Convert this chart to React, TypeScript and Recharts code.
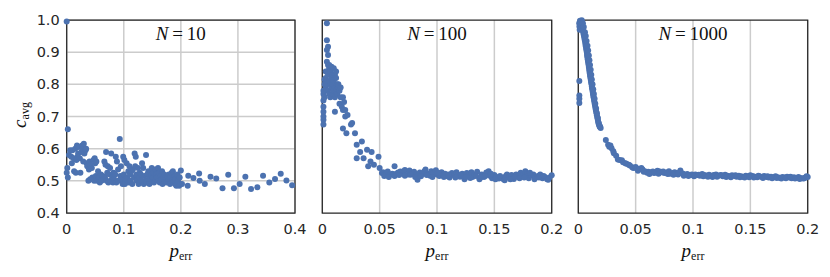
import { CartesianGrid, ReferenceArea, Scatter, ScatterChart, XAxis, YAxis } from "recharts";

const dotColor = "#4C72B0";
const gridColor = "#CCCCCC";
const edgeColor = "#262626";
const sans = "'DejaVu Sans', Arial, sans-serif";
const serif = "'Liberation Serif', 'DejaVu Serif', serif";

const yTicks = [0.4, 0.5, 0.6, 0.7, 0.8, 0.9, 1.0];
const xTicksWide = [0, 0.1, 0.2, 0.3, 0.4];
const xTicksNarrow = [0, 0.05, 0.1, 0.15, 0.2];

// N = 10
const n10: number[][] = [
  [0, 0.995], [0.002, 0.66], [0, 0.525], [0.001, 0.54], [0.002, 0.51], [0.004, 0.58], [0.006, 0.595], [0.008, 0.575], [0.009, 0.555], [0.01, 0.595],
  [0.012, 0.57], [0.013, 0.53], [0.015, 0.6], [0.016, 0.525], [0.018, 0.61], [0.019, 0.575], [0.02, 0.585], [0.017, 0.565],
  [0.021, 0.605], [0.023, 0.57], [0.024, 0.525], [0.026, 0.59], [0.027, 0.61], [0.028, 0.6], [0.029, 0.56], [0.03, 0.615],
  [0.031, 0.585], [0.033, 0.595], [0.034, 0.6], [0.035, 0.555], [0.036, 0.545], [0.038, 0.5], [0.039, 0.535], [0.04, 0.56],
  [0.041, 0.505], [0.042, 0.55], [0.044, 0.54], [0.045, 0.51], [0.047, 0.565], [0.048, 0.5], [0.049, 0.57], [0.05, 0.555],
  [0.051, 0.515], [0.052, 0.56], [0.053, 0.5], [0.055, 0.53], [0.056, 0.505], [0.057, 0.51], [0.058, 0.495], [0.06, 0.52],
  [0.061, 0.5], [0.063, 0.515], [0.064, 0.505], [0.066, 0.56], [0.067, 0.51], [0.068, 0.55], [0.069, 0.59], [0.07, 0.5],
  [0.071, 0.525], [0.072, 0.545], [0.073, 0.495], [0.075, 0.52], [0.076, 0.54], [0.077, 0.5], [0.078, 0.585], [0.08, 0.51],
  [0.081, 0.495], [0.082, 0.525], [0.083, 0.505], [0.085, 0.52], [0.086, 0.575], [0.087, 0.495], [0.088, 0.56], [0.09, 0.535],
  [0.091, 0.5], [0.093, 0.63], [0.094, 0.515], [0.095, 0.545], [0.096, 0.505], [0.098, 0.49], [0.099, 0.575], [0.1, 0.52],
  [0.101, 0.565], [0.102, 0.49], [0.103, 0.505], [0.105, 0.555], [0.106, 0.51], [0.108, 0.53], [0.109, 0.495], [0.11, 0.545],
  [0.111, 0.52], [0.112, 0.5], [0.113, 0.53], [0.115, 0.49], [0.116, 0.535], [0.118, 0.51], [0.119, 0.585], [0.12, 0.545],
  [0.121, 0.575], [0.122, 0.52], [0.123, 0.5], [0.125, 0.54], [0.126, 0.49], [0.127, 0.51], [0.128, 0.525], [0.13, 0.52],
  [0.131, 0.5], [0.132, 0.555], [0.134, 0.54], [0.135, 0.49], [0.136, 0.515], [0.138, 0.5], [0.139, 0.58], [0.14, 0.495],
  [0.141, 0.52], [0.143, 0.53], [0.144, 0.505], [0.145, 0.49], [0.147, 0.53], [0.148, 0.52], [0.149, 0.54], [0.15, 0.5],
  [0.151, 0.51], [0.152, 0.525], [0.153, 0.495], [0.155, 0.535], [0.156, 0.505], [0.157, 0.52], [0.158, 0.51], [0.16, 0.54],
  [0.161, 0.5], [0.162, 0.525], [0.163, 0.495], [0.165, 0.515], [0.166, 0.505], [0.167, 0.53], [0.168, 0.49], [0.17, 0.51],
  [0.171, 0.52], [0.172, 0.5], [0.174, 0.51], [0.175, 0.495], [0.176, 0.515], [0.178, 0.5], [0.179, 0.52], [0.18, 0.505],
  [0.181, 0.49], [0.182, 0.51], [0.184, 0.525], [0.185, 0.5], [0.186, 0.53], [0.187, 0.495], [0.189, 0.515], [0.19, 0.49],
  [0.191, 0.505], [0.192, 0.485], [0.194, 0.52], [0.195, 0.5], [0.197, 0.485], [0.198, 0.51], [0.199, 0.49], [0.2, 0.532],
  [0.202, 0.49], [0.212, 0.485], [0.213, 0.516], [0.222, 0.509], [0.232, 0.523], [0.233, 0.5], [0.242, 0.49], [0.252, 0.513],
  [0.262, 0.507], [0.273, 0.477], [0.283, 0.519], [0.293, 0.477], [0.303, 0.49], [0.313, 0.513], [0.323, 0.475], [0.334, 0.48],
  [0.344, 0.516], [0.355, 0.495], [0.365, 0.506], [0.375, 0.522], [0.385, 0.501], [0.395, 0.486],
];

// N = 100
const n100: number[][] = [
  [0.001, 0.675], [0.001, 0.69], [0.001, 0.7], [0.001, 0.715], [0.001, 0.73], [0.001, 0.75], [0.001, 0.77], [0.001, 0.78],
  [0.002, 0.8], [0.002, 0.815], [0.002, 0.76], [0.003, 0.79], [0.003, 0.82], [0.003, 0.84], [0.004, 0.99], [0.004, 0.937],
  [0.005, 0.917], [0.004, 0.907], [0.005, 0.891], [0.004, 0.87], [0.004, 0.8], [0.005, 0.86], [0.005, 0.83], [0.005, 0.78],
  [0.006, 0.85], [0.006, 0.81], [0.006, 0.77], [0.006, 0.86], [0.007, 0.84], [0.007, 0.8], [0.007, 0.76], [0.008, 0.855],
  [0.008, 0.82], [0.008, 0.79], [0.009, 0.83], [0.009, 0.8], [0.009, 0.77], [0.01, 0.85], [0.01, 0.81], [0.01, 0.78],
  [0.011, 0.83], [0.011, 0.79], [0.011, 0.76], [0.012, 0.82], [0.012, 0.84], [0.012, 0.78], [0.013, 0.8], [0.013, 0.77],
  [0.014, 0.79], [0.014, 0.8], [0.011, 0.715], [0.015, 0.78], [0.015, 0.74], [0.016, 0.79], [0.016, 0.76], [0.017, 0.73],
  [0.018, 0.76], [0.018, 0.72], [0.019, 0.745], [0.02, 0.7], [0.02, 0.72], [0.022, 0.705], [0.025, 0.675], [0.026, 0.68],
  [0.018, 0.663], [0.021, 0.648], [0.0285, 0.648], [0.0345, 0.622], [0.03, 0.612], [0.033, 0.59], [0.039, 0.597], [0.043, 0.59],
  [0.03, 0.57], [0.036, 0.57], [0.042, 0.56], [0.049, 0.575], [0.04, 0.545], [0.045, 0.55], [0.05, 0.54], [0.052, 0.524],
  [0.053, 0.527], [0.055, 0.52], [0.057, 0.529], [0.059, 0.519], [0.061, 0.522], [0.063, 0.545], [0.064, 0.521], [0.066, 0.526],
  [0.068, 0.529], [0.07, 0.522], [0.071, 0.53], [0.072, 0.534], [0.075, 0.52], [0.076, 0.532], [0.078, 0.524], [0.08, 0.528],
  [0.082, 0.518], [0.083, 0.503], [0.085, 0.526], [0.087, 0.521], [0.089, 0.53], [0.09, 0.535], [0.092, 0.522], [0.094, 0.516],
  [0.095, 0.53], [0.097, 0.525], [0.099, 0.533], [0.1, 0.52], [0.102, 0.515], [0.104, 0.527], [0.105, 0.519], [0.107, 0.522],
  [0.109, 0.514], [0.111, 0.51], [0.113, 0.524], [0.115, 0.517], [0.117, 0.527], [0.118, 0.52], [0.12, 0.513], [0.122, 0.522],
  [0.124, 0.505], [0.126, 0.524], [0.128, 0.518], [0.13, 0.527], [0.131, 0.512], [0.133, 0.52], [0.135, 0.528], [0.137, 0.505],
  [0.139, 0.52], [0.141, 0.512], [0.143, 0.526], [0.145, 0.53], [0.146, 0.516], [0.148, 0.508], [0.15, 0.518], [0.152, 0.512],
  [0.154, 0.507], [0.156, 0.51], [0.158, 0.505], [0.16, 0.515], [0.161, 0.52], [0.163, 0.51], [0.165, 0.518], [0.167, 0.506],
  [0.169, 0.52], [0.171, 0.514], [0.173, 0.525], [0.175, 0.519], [0.177, 0.53], [0.179, 0.522], [0.18, 0.508], [0.182, 0.517],
  [0.184, 0.52], [0.186, 0.51], [0.188, 0.515], [0.19, 0.52], [0.192, 0.508], [0.194, 0.512], [0.196, 0.505], [0.198, 0.51],
  [0.2, 0.517], [0.054, 0.515], [0.058, 0.512], [0.063, 0.515], [0.067, 0.518], [0.072, 0.516], [0.077, 0.519], [0.081, 0.512],
  [0.086, 0.514], [0.091, 0.518], [0.096, 0.512], [0.101, 0.525], [0.106, 0.512], [0.11, 0.52], [0.116, 0.51], [0.121, 0.518],
  [0.125, 0.512], [0.129, 0.509], [0.134, 0.515], [0.138, 0.51], [0.142, 0.515], [0.147, 0.522], [0.151, 0.505], [0.155, 0.515],
  [0.159, 0.502], [0.164, 0.505], [0.168, 0.512], [0.172, 0.508], [0.176, 0.51], [0.181, 0.525], [0.185, 0.505], [0.189, 0.51],
  [0.193, 0.515], [0.197, 0.503],
];

// N = 1000
const n1000: number[][] = [
  [0.0008, 0.99], [0.001, 0.98], [0.0012, 0.97], [0.0009, 0.81], [0.0009, 0.765], [0.0009, 0.755], [0.0009, 0.742],
  [0.0015, 0.998], [0.0025, 0.996], [0.002, 0.99], [0.003, 0.993], [0.0028, 0.985], [0.0032, 0.98], [0.0036, 0.975], [0.0038, 0.97],
  [0.0042, 0.965], [0.0045, 0.96], [0.0047, 0.955], [0.005, 0.95], [0.0053, 0.944], [0.0056, 0.938], [0.006, 0.932], [0.0062, 0.926],
  [0.0064, 0.92], [0.0068, 0.914], [0.007, 0.908], [0.0073, 0.902], [0.0076, 0.896], [0.0077, 0.89], [0.008, 0.884], [0.0082, 0.878],
  [0.0085, 0.872], [0.0087, 0.866], [0.009, 0.86], [0.0092, 0.854], [0.0095, 0.848], [0.0097, 0.842], [0.0099, 0.836], [0.0102, 0.83],
  [0.0104, 0.824], [0.0107, 0.818], [0.011, 0.812], [0.0112, 0.806], [0.0116, 0.8], [0.0118, 0.794], [0.012, 0.788], [0.0123, 0.782],
  [0.0126, 0.776], [0.0128, 0.77], [0.0131, 0.764], [0.0134, 0.758], [0.0137, 0.752], [0.014, 0.746], [0.0143, 0.74], [0.0146, 0.734],
  [0.0149, 0.728], [0.0152, 0.722], [0.0155, 0.716], [0.0159, 0.71], [0.0162, 0.704], [0.0166, 0.698], [0.0169, 0.692], [0.0172, 0.686],
  [0.0176, 0.68], [0.018, 0.675], [0.0185, 0.67], [0.019, 0.667], [0.0195, 0.664],
  [0.003, 0.999], [0.004, 0.99], [0.0048, 0.978], [0.0058, 0.962], [0.0065, 0.95], [0.0072, 0.935], [0.008, 0.92], [0.0086, 0.905],
  [0.0092, 0.89], [0.0097, 0.875], [0.0102, 0.86], [0.0108, 0.845], [0.0113, 0.83], [0.0118, 0.815], [0.0124, 0.8], [0.013, 0.785],
  [0.0136, 0.77], [0.0142, 0.755], [0.0148, 0.74], [0.0155, 0.725], [0.0162, 0.71], [0.017, 0.695], [0.0178, 0.68], [0.0188, 0.67],
  [0.024, 0.627], [0.026, 0.612], [0.027, 0.606], [0.028, 0.61], [0.029, 0.601], [0.0305, 0.592], [0.031, 0.586], [0.033, 0.578],
  [0.0345, 0.566], [0.036, 0.565], [0.038, 0.564], [0.039, 0.558], [0.041, 0.555], [0.042, 0.553], [0.044, 0.55], [0.045, 0.548],
  [0.047, 0.542], [0.048, 0.54], [0.05, 0.543], [0.051, 0.538], [0.053, 0.536], [0.055, 0.54], [0.056, 0.535], [0.058, 0.53],
  [0.06, 0.525], [0.061, 0.528], [0.063, 0.527], [0.065, 0.529], [0.067, 0.526], [0.069, 0.531], [0.071, 0.529], [0.073, 0.527],
  [0.075, 0.524], [0.077, 0.526], [0.079, 0.53], [0.08, 0.522], [0.082, 0.524], [0.084, 0.527], [0.086, 0.522], [0.088, 0.526],
  [0.089, 0.532], [0.091, 0.523], [0.093, 0.519], [0.095, 0.521], [0.097, 0.518], [0.099, 0.52], [0.1, 0.517], [0.102, 0.52],
  [0.104, 0.518], [0.106, 0.516], [0.108, 0.521], [0.11, 0.518], [0.112, 0.516], [0.114, 0.519], [0.116, 0.515], [0.118, 0.518],
  [0.12, 0.52], [0.122, 0.516], [0.124, 0.518], [0.126, 0.514], [0.128, 0.519], [0.13, 0.516], [0.132, 0.514], [0.134, 0.517],
  [0.136, 0.515], [0.138, 0.513], [0.14, 0.516], [0.142, 0.514], [0.144, 0.512], [0.146, 0.516], [0.148, 0.514], [0.15, 0.517],
  [0.152, 0.515], [0.154, 0.513], [0.156, 0.511], [0.158, 0.514], [0.16, 0.512], [0.162, 0.515], [0.164, 0.512], [0.166, 0.51],
  [0.168, 0.513], [0.17, 0.511], [0.172, 0.514], [0.174, 0.511], [0.176, 0.509], [0.178, 0.512], [0.18, 0.51], [0.182, 0.513],
  [0.184, 0.51], [0.186, 0.508], [0.188, 0.511], [0.19, 0.509], [0.192, 0.512], [0.194, 0.509], [0.196, 0.507], [0.198, 0.51],
  [0.2, 0.512], [0.052, 0.531], [0.057, 0.528], [0.062, 0.521], [0.066, 0.524], [0.07, 0.522], [0.074, 0.529], [0.078, 0.521],
  [0.083, 0.519], [0.087, 0.52], [0.092, 0.516], [0.096, 0.515], [0.101, 0.514], [0.105, 0.519], [0.109, 0.514], [0.113, 0.513],
  [0.117, 0.512], [0.121, 0.513], [0.125, 0.517], [0.129, 0.512], [0.133, 0.511], [0.137, 0.517], [0.141, 0.511], [0.145, 0.51],
  [0.149, 0.511], [0.153, 0.51], [0.157, 0.516], [0.161, 0.509], [0.165, 0.514], [0.169, 0.508], [0.173, 0.509], [0.177, 0.507],
  [0.181, 0.508], [0.185, 0.513], [0.189, 0.507], [0.193, 0.506], [0.197, 0.508], [0.199, 0.514],
];

const fmtX = (v: number) => String(v);
const fmtY = (v: number) => v.toFixed(1);

function Dot(props: any) {
  return <circle cx={props.cx} cy={props.cy} r={3} fill={dotColor} />;
}

function TitleLabel({ viewBox, n }: any) {
  const cx = viewBox.x + viewBox.width / 2;
  return (
    <text x={cx} y={viewBox.y + 20} textAnchor="middle" fontFamily={serif} fontSize={19} fill="#111">
      <tspan fontStyle="italic">N</tspan>
      <tspan>{"\u2009=\u2009" + n}</tspan>
    </text>
  );
}

function XLabel({ viewBox }: any) {
  const cx = viewBox.x + viewBox.width / 2;
  return (
    <text x={cx} y={257} textAnchor="middle" fontFamily={serif} fill="#111">
      <tspan fontStyle="italic" fontSize={19}>p</tspan>
      <tspan fontSize={12} dy={3}>err</tspan>
    </text>
  );
}

function YLabel() {
  return (
    <text x={0} y={0} transform="translate(26,115) rotate(-90)" textAnchor="middle" fontFamily={serif} fill="#111">
      <tspan fontStyle="italic" fontSize={19}>c</tspan>
      <tspan fontSize={12} dy={3}>avg</tspan>
    </text>
  );
}

function Panel({ data, xTicks, xMax, n, left, width, margin, showY }: any) {
  const points = data.map((d: number[]) => ({ x: d[0], y: d[1] }));
  return (
    <div style={{ position: "absolute", left, top: 0 }}>
      <ScatterChart width={width} height={277} margin={margin} style={{ overflow: "visible" }}>
        <CartesianGrid stroke={gridColor} strokeWidth={1.5} horizontalValues={yTicks} verticalValues={xTicks} />
        <XAxis
          type="number"
          dataKey="x"
          domain={[0, xMax]}
          ticks={xTicks}
          tickFormatter={fmtX}
          height={64}
          axisLine={false}
          tickLine={false}
          tickSize={0}
          tickMargin={11}
          tick={{ fill: edgeColor, fontSize: 14.5, fontFamily: sans }}
          label={<XLabel />}
        />
        <YAxis
          type="number"
          dataKey="y"
          domain={[0.4, 1]}
          ticks={yTicks}
          tickFormatter={fmtY}
          width={showY ? 66.7 : 0}
          axisLine={false}
          tickLine={false}
          tickSize={0}
          tickMargin={7}
          tick={showY ? { fill: edgeColor, fontSize: 14.5, fontFamily: sans } : false}
          label={showY ? <YLabel /> : undefined}
        />
        <Scatter data={points} shape={Dot} isAnimationActive={false} />
        <ReferenceArea
          x1={0}
          x2={xMax}
          y1={0.4}
          y2={1}
          fill="none"
          stroke={edgeColor}
          strokeWidth={1.25}
          label={<TitleLabel n={n} />}
        />
      </ScatterChart>
    </div>
  );
}

export default function App() {
  return (
    <div style={{ position: "absolute", left: 0, top: 0, width: 830, height: 277, background: "#fff" }}>
      <Panel data={n10} xTicks={xTicksWide} xMax={0.4} n="10" left={0} width={320} margin={{ top: 20, right: 25, bottom: 0, left: 0 }} showY />
      <Panel data={n100} xTicks={xTicksNarrow} xMax={0.2} n="100" left={300} width={270} margin={{ top: 20, right: 18.3, bottom: 0, left: 22.3 }} />
      <Panel data={n1000} xTicks={xTicksNarrow} xMax={0.2} n="1000" left={555} width={275} margin={{ top: 20, right: 22.3, bottom: 0, left: 23.3 }} />
    </div>
  );
}
